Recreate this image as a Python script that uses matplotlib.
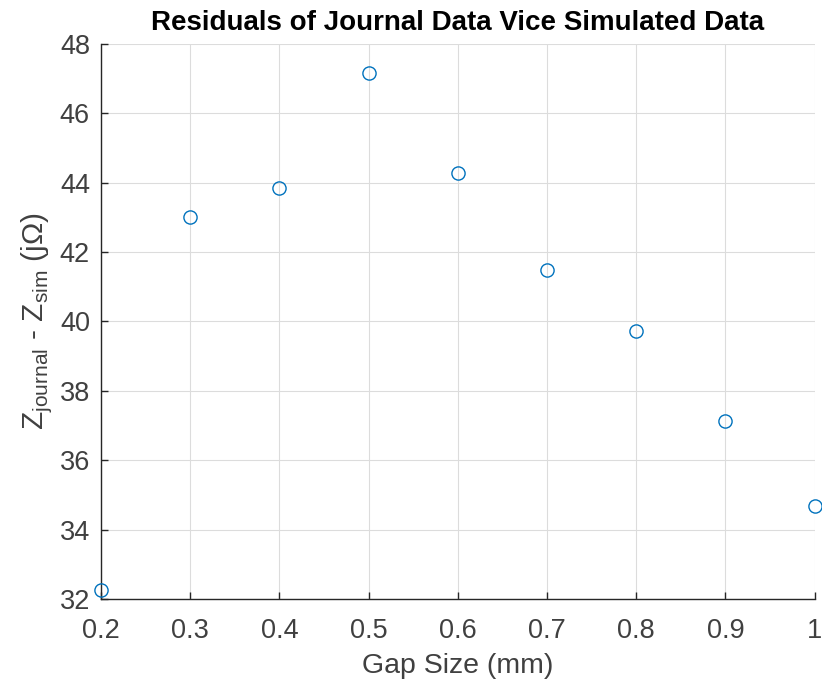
import matplotlib.pyplot as plt
import numpy as np

plt.rcParams['font.family'] = ['Liberation Sans', 'DejaVu Sans']
plt.rcParams['mathtext.fontset'] = 'custom'
plt.rcParams['mathtext.rm'] = 'Liberation Sans'

gap = [0.2, 0.3, 0.4, 0.5, 0.6, 0.7, 0.8, 0.9, 1.0]
resid = [32.25, 43.02, 43.85, 47.17, 44.27, 41.48, 39.72, 37.13, 34.68]
xticks = [0.2, 0.3, 0.4, 0.5, 0.6, 0.7, 0.8, 0.9, 1.0]
xticklabels = ['0.2', '0.3', '0.4', '0.5', '0.6', '0.7', '0.8', '0.9', '1']
yticks = [32, 34, 36, 38, 40, 42, 44, 46, 48]

fig = plt.figure(figsize=(8.22, 6.82), dpi=100)
ax = fig.add_axes([0.123, 0.1217, 0.868, 0.8138])

ax.plot(gap, resid, linestyle='none', marker='o', markersize=9.5,
        markerfacecolor='none', markeredgecolor='#0072BD', markeredgewidth=1.0,
        clip_on=False, zorder=3)

ax.set_xlim(0.2, 1.0)
ax.set_ylim(32, 48)
ax.set_xticks(xticks)
ax.set_xticklabels(xticklabels)
ax.set_yticks(yticks)

ax.grid(True, color='#dcdcdc', linewidth=0.8)
ax.set_axisbelow(True)
for s in ['top', 'right']:
    ax.spines[s].set_visible(False)
for s in ['left', 'bottom']:
    ax.spines[s].set_color('#262626')
    ax.spines[s].set_linewidth(1.0)

ax.tick_params(direction='in', length=5, width=1, colors='#262626',
               labelsize=19.5, labelcolor='#404040')
ax.tick_params(axis='x', pad=14)
ax.tick_params(axis='y', pad=8)

ax.set_xlabel('Gap Size (mm)', fontsize=20.5, color='#404040', labelpad=6)
ax.set_ylabel(r'Z$_{\mathregular{journal}}$ - Z$_{\mathregular{sim}}$ (j$\Omega$)',
              fontsize=21.5, color='#404040', labelpad=4)
ax.set_title('Residuals of Journal Data Vice Simulated Data', fontsize=20,
             fontweight='bold', pad=10)

fig.savefig('out.png', dpi=100)
